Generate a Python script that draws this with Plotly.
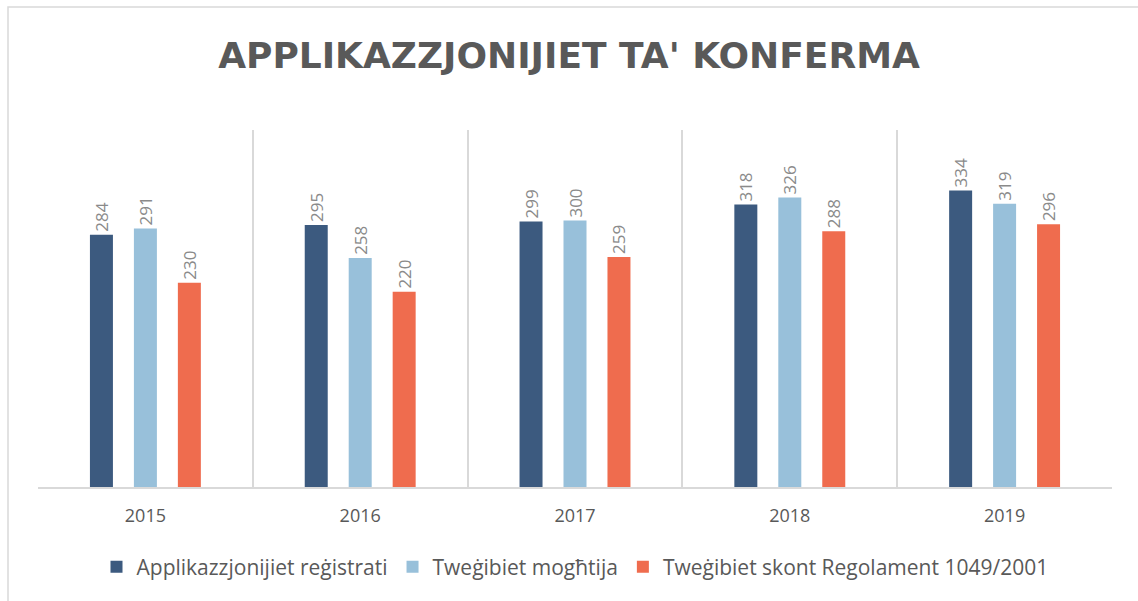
import plotly.graph_objects as go

years = ["2015", "2016", "2017", "2018", "2019"]
registrati = [284, 295, 299, 318, 334]
moghtija = [291, 258, 300, 326, 319]
skont_regolament = [230, 220, 259, 288, 296]

series_names = ["Applikazzjonijiet reġistrati", "Tweġibiet mogħtija",
                "Tweġibiet skont Regolament 1049/2001"]
colors = ["#3C5A7F", "#98C0DA", "#EF6C4E"]

W, H = 1138, 601
L, R, T, B = 38, 26, 130, 114
pw, ph = W - L - R, H - T - B

fig = go.Figure()
for name, vals, col in zip(series_names, [registrati, moghtija, skont_regolament], colors):
    fig.add_trace(go.Bar(
        x=years, y=vals, name=name,
        marker=dict(color=col, line=dict(width=0)),
        text=[str(v) for v in vals], textposition="outside", textangle=-90,
        constraintext="none",
        textfont=dict(family="Open Sans", size=17, color="#8A8A8A"),
        cliponaxis=False,
    ))

fig.update_layout(
    width=W, height=H,
    margin=dict(l=L, r=R, t=T, b=B),
    paper_bgcolor="white", plot_bgcolor="white",
    barmode="group", bargap=0.386, bargroupgap=0.477,
    title=dict(text="<b>APPLIKAZZJONIJIET TA' KONFERMA</b>",
               x=0.5, xanchor="center", y=1 - 55 / H, yanchor="middle",
               font=dict(family="DejaVu Sans", size=36, color="#595959")),
    legend=dict(orientation="h", x=0.5, xanchor="center", y=-(567 - 487) / ph, yanchor="middle",
                font=dict(family="Open Sans", size=21, color="#595959"),
                itemwidth=30, tracegroupgap=0, traceorder="normal"),
    showlegend=True,
    xaxis=dict(type="category", tickson="boundaries", showgrid=True, gridcolor="#D9D9D9",
               gridwidth=1.5, showline=True, linecolor="#D9D9D9", linewidth=1.5,
               ticks="", tickfont=dict(family="Open Sans", size=18, color="#595959"),
               ticklabelstandoff=12, mirror=False),
    yaxis=dict(range=[0, 402], showgrid=False, showticklabels=False, zeroline=False,
               showline=False, ticks=""),
    shapes=[dict(type="rect", xref="paper", yref="paper",
                 x0=(8 - L) / pw, x1=(W + 5 - L) / pw,
                 y0=(H - B - (H + 5)) / ph, y1=(H - B - 7) / ph,
                 line=dict(color="#D9D9D9", width=1.5), fillcolor="rgba(0,0,0,0)", layer="below")],
)

fig.write_html("out.html", config={"displayModeBar": False},
               post_script="document.body.style.margin='0';document.body.style.overflow='hidden';")
